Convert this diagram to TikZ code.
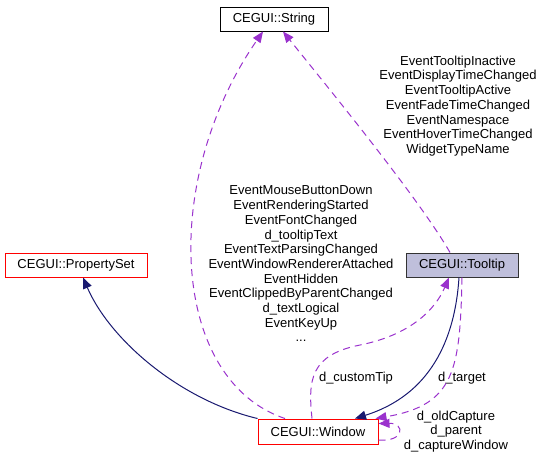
\documentclass[tikz,border=0pt]{standalone}
\usepackage{fontspec}
\setmainfont{Liberation Sans}
\usepackage{xcolor}
\definecolor{edgenavy}{HTML}{191970}
\definecolor{edgeorchid}{HTML}{9A32CD}
\definecolor{boxred}{HTML}{FF0000}
\definecolor{boxfill}{HTML}{BFBFDB}
\usepackage{tikz}
\usetikzlibrary{arrows.meta, positioning}
\tikzset{
  dfont/.style ={font=\fontsize{13}{14.7}\selectfont},
  cbox/.style  ={rectangle, draw=black, line width=1pt, fill=white, text=black, inner sep=0pt,
                 minimum height=24pt, dfont},
  cboxr/.style ={cbox, draw=boxred},
  cboxc/.style ={cbox, draw=black!80, fill=boxfill},
  iarr/.style  ={-{Triangle[length=11pt, width=9pt]}, line width=1pt, color=edgenavy},
  uarr/.style  ={-{Triangle[length=11pt, width=9pt]}, line width=1pt, color=edgeorchid, dash pattern=on 7pt off 5pt},
  elbl/.style  ={align=center, inner sep=0pt, text=black, dfont},
}
\begin{document}
\begin{tikzpicture}[x=1pt, y=-1pt]
  \useasboundingbox (0,0) rectangle (545,459);
  \node[cbox, minimum width=108pt] (str) at (274,19) {CEGUI::String};
  \node[cboxr, minimum width=142pt] (pset) at (76,265) {CEGUI::PropertySet};
  \node[cboxc, minimum width=112pt] (tip) at (462,265) {CEGUI::Tooltip};
  \node[cboxr, minimum width=120pt, minimum height=25pt] (win) at (318,431.5) {CEGUI::Window};
  \node[elbl] (lblstr) at (301,264) {EventMouseButtonDown\\EventRenderingStarted\\EventFontChanged\\d\_tooltipText\\EventTextParsingChanged\\EventWindowRendererAttached\\EventHidden\\EventClippedByParentChanged\\d\_textLogical\\EventKeyUp\\...};
  \node[elbl] (lbltipstr) at (458,106) {EventTooltipInactive\\EventDisplayTimeChanged\\EventTooltipActive\\EventFadeTimeChanged\\EventNamespace\\EventHoverTimeChanged\\WidgetTypeName};
  \node[elbl] (lblcustom) at (356,378) {d\_customTip};
  \node[elbl] (lbltarget) at (462,378) {d\_target};
  \node[elbl] (lblself) at (456,431.5) {d\_oldCapture\\d\_parent\\d\_captureWindow};
  \draw[iarr] (win.north west) .. controls (180,400) and (110,340) .. ([xshift=7pt]pset.south);
  \draw[iarr] ([xshift=-3pt]tip.south) .. controls (455,340) and (430,395) .. ([xshift=37pt]win.north);
  \draw[uarr] ([xshift=-6pt]win.north) .. controls (308,380) and (310,355) .. (360,345) .. controls (410,335) and (435,310) .. ([xshift=-13pt]tip.south);
  \draw[uarr] (tip.south) .. controls (460,370) and (455,405) .. ([xshift=-3pt]win.north east);
  \draw[uarr] ([yshift=-8.5pt]win.east) .. controls (405,442) and (405,423) .. ([yshift=8pt]win.east);
  \draw[uarr] ([xshift=-33pt]win.north) .. controls (170,380) and (160,180) .. ([xshift=-11pt]str.south);
  \draw[uarr] ([xshift=-12pt]tip.north) .. controls (420,200) and (330,90) .. ([xshift=9pt]str.south);
\end{tikzpicture}
\end{document}
